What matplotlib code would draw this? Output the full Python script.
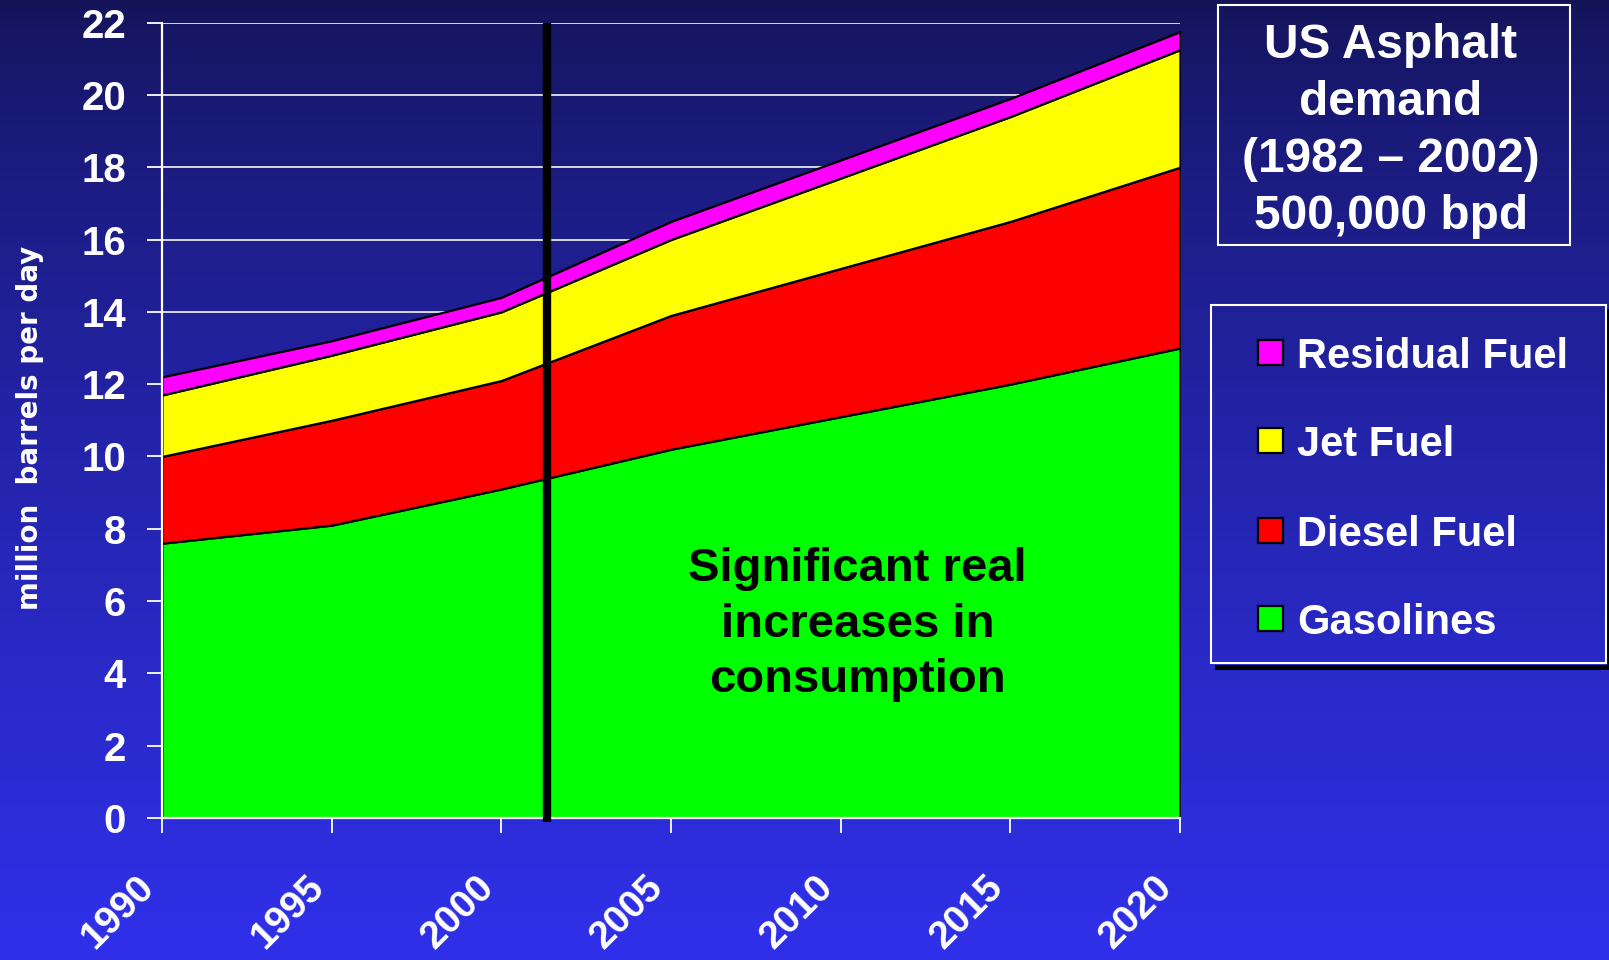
import numpy as np
import matplotlib
matplotlib.use("Agg")
import matplotlib.pyplot as plt
import matplotlib.transforms as mtransforms
from matplotlib.patches import Rectangle

# ---- data (million barrels per day, stacked components) ----
years = [1990, 1995, 2000, 2005, 2010, 2015, 2020]
gasolines = [7.6, 8.1, 9.1, 10.2, 11.1, 12.0, 13.0]
diesel_fuel = [2.4, 2.9, 3.0, 3.7, 4.1, 4.5, 5.0]
jet_fuel = [1.7, 1.8, 1.9, 2.1, 2.5, 2.9, 3.25]
residual_fuel = [0.5, 0.4, 0.4, 0.5, 0.5, 0.5, 0.5]

series_labels = ["Gasolines", "Diesel Fuel", "Jet Fuel", "Residual Fuel"]
series_colors = ["#00ff00", "#ff0000", "#ffff00", "#ff00ff"]
year_ticks = [1990, 1995, 2000, 2005, 2010, 2015, 2020]
value_ticks = list(range(0, 23, 2))
divider_year = 2001.34

title_lines = "US Asphalt\ndemand\n(1982 \u2013 2002)\n500,000 bpd"
note_text = "Significant real\nincreases in\nconsumption"
y_label = "million  barrels per day"

plt.rcParams["font.family"] = ["Liberation Sans", "DejaVu Sans"]

W, H = 1609, 960
fig = plt.figure(figsize=(W / 100, H / 100), dpi=100)


def fx(px):
    return px / W


def fy(py):
    return 1 - py / H


# ---- vertical gradient background ----
bg = fig.add_axes([0, 0, 1, 1], zorder=-10)
t = np.linspace(0, 1, 600) ** 0.75
c_top = np.array([20, 20, 88]) / 255
c_bot = np.array([48, 48, 234]) / 255
grad = c_top[None, None, :] + (c_bot - c_top)[None, None, :] * t[:, None, None]
bg.imshow(grad, aspect="auto", extent=[0, 1, 0, 1], interpolation="bilinear")
bg.set_axis_off()

# ---- stacked area chart ----
ax = fig.add_axes([fx(162), fy(818), fx(1180) - fx(162), fy(22.6) - fy(818)])
ax.patch.set_alpha(0)

ax.stackplot(years, gasolines, diesel_fuel, jet_fuel, residual_fuel,
             colors=series_colors, edgecolor="black", linewidth=1.6)

ax.set_xlim(1990, 2020)
ax.set_ylim(0, 22)

ax.tick_params(axis="y", length=11, width=1.3, color="white", pad=15)
ax.tick_params(axis="x", length=11, width=1.3, color="white", pad=35)

ax.set_yticks(value_ticks)
ax.set_yticklabels([str(v) for v in value_ticks], fontsize=29,
                   fontweight="bold", color="white")
ax.set_xticks(year_ticks)
ax.set_xticklabels([str(y) for y in year_ticks], fontsize=28,
                   fontweight="bold", color="white",
                   rotation=45, ha="right", va="center",
                   rotation_mode="anchor")
shift = mtransforms.ScaledTranslation(-13 / 100, 0, fig.dpi_scale_trans)
for lbl in ax.get_xticklabels():
    lbl.set_transform(lbl.get_transform() + shift)

for side in ("top", "right"):
    ax.spines[side].set_visible(False)
for side in ("left", "bottom"):
    ax.spines[side].set_color("white")
    ax.spines[side].set_linewidth(1.6)

ax.yaxis.grid(True, color="#e6e6e6", linewidth=1.3)
ax.set_axisbelow(True)

# divider line
ax.plot([divider_year, divider_year], [-0.12, 22], color="black",
        linewidth=6, solid_capstyle="butt", clip_on=False, zorder=3)

# annotation inside the chart
ax.text(2010.5, 5.35, note_text, ha="center", va="center", fontsize=34,
        fontweight="bold", color="black", linespacing=1.34, zorder=4)

# y axis title
fig.text(fx(30), fy(428), y_label, rotation=90, ha="center", va="center",
         fontsize=20, fontweight="bold", color="white", family="DejaVu Sans")

# ---- title box ----
fig.patches.append(Rectangle((fx(1218), fy(245)), fx(1570) - fx(1218),
                             fy(5) - fy(245), transform=fig.transFigure,
                             facecolor="none", edgecolor="white",
                             linewidth=1.5))
fig.text(fx(1391), fy(131), title_lines, ha="center", va="center",
         fontsize=34.4, fontweight="bold", color="white", linespacing=1.34)

# ---- legend box with drop shadow ----
lx0, lx1, ly0, ly1 = 1211, 1606, 305, 663
fig.patches.append(Rectangle((fx(lx0 + 4), fy(ly1 + 7)), fx(lx1) - fx(lx0),
                             fy(ly1 + 2) - fy(ly1 + 7),
                             transform=fig.transFigure, facecolor="black",
                             edgecolor="none"))
fig.patches.append(Rectangle((fx(lx1 + 1), fy(ly1 + 7)), fx(6),
                             fy(ly0 + 4) - fy(ly1 + 7),
                             transform=fig.transFigure, facecolor="black",
                             edgecolor="none"))
fig.patches.append(Rectangle((fx(lx0), fy(ly1)), fx(lx1) - fx(lx0),
                             fy(ly0) - fy(ly1), transform=fig.transFigure,
                             facecolor="none", edgecolor="white",
                             linewidth=1.5))

row_y = [618.5, 530, 440.5, 352.5]
sw = 25
for label, color, yc in zip(series_labels, series_colors, row_y):
    fig.patches.append(Rectangle((fx(1258), fy(yc + sw / 2)), fx(sw),
                                 fy(yc - sw / 2) - fy(yc + sw / 2),
                                 transform=fig.transFigure, facecolor=color,
                                 edgecolor="black", linewidth=1.6))
    fig.text(fx(1297), fy(yc), label, ha="left", va="center_baseline",
             fontsize=30, fontweight="bold", color="white")

fig.savefig("out.png", dpi=100)
